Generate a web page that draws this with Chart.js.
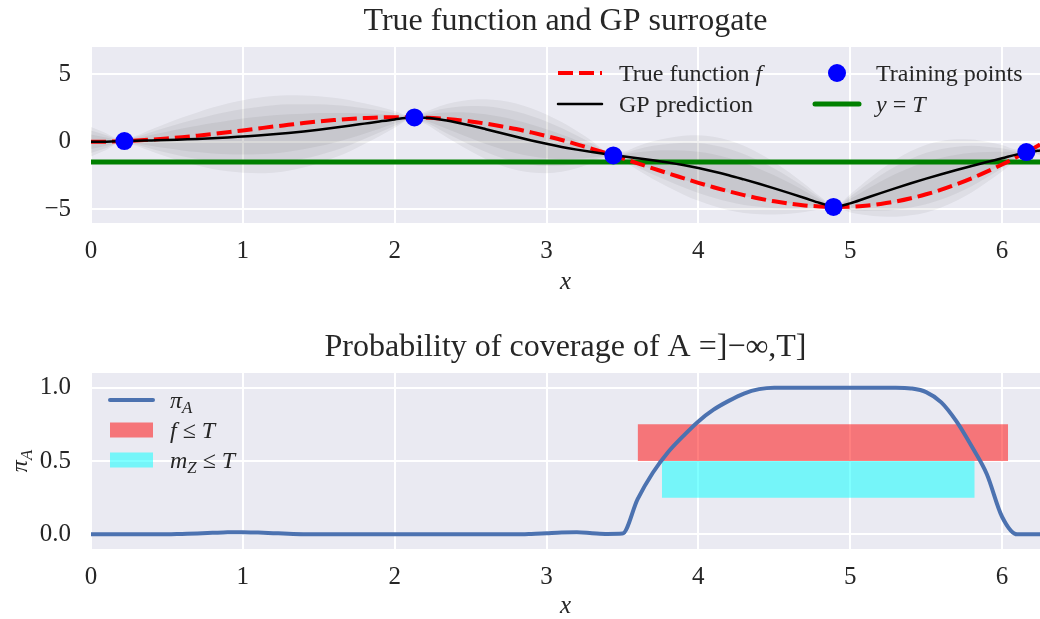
<!DOCTYPE html>
<html>
<head>
<meta charset="utf-8">
<script src="https://cdn.jsdelivr.net/npm/chart.js@4.4.0/dist/chart.umd.min.js"></script>
<style>
  body { margin: 0; background: #fff; }
  canvas { position: absolute; left: 0; }
</style>
</head>
<body>
<canvas id="gpChart" width="1040" height="300" style="top:0"></canvas>
<canvas id="covChart" width="1040" height="319" style="top:300px"></canvas>
<script>
// x grid shared by every curve
const xGrid = [0, 0.1, 0.2, 0.3, 0.4, 0.5, 0.6, 0.7, 0.8, 0.9,
  1.0, 1.1, 1.2, 1.3, 1.4, 1.5, 1.6, 1.7, 1.8, 1.9,
  2.0, 2.1, 2.2, 2.3, 2.4, 2.5, 2.6, 2.7, 2.8, 2.9,
  3.0, 3.1, 3.2, 3.3, 3.4, 3.5, 3.6, 3.7, 3.8, 3.9,
  4.0, 4.1, 4.2, 4.3, 4.4, 4.5, 4.6, 4.7, 4.8, 4.9,
  5.0, 5.1, 5.2, 5.3, 5.4, 5.5, 5.6, 5.7, 5.8, 5.9,
  6.0, 6.1, 6.2, 6.25];

// true function f
const trueF = [0.00, 0.01, 0.04, 0.09, 0.16, 0.24, 0.34, 0.45, 0.57, 0.70,
  0.84, 0.98, 1.12, 1.25, 1.38, 1.50, 1.60, 1.69, 1.75, 1.80,
  1.82, 1.81, 1.78, 1.72, 1.62, 1.50, 1.34, 1.15, 0.94, 0.69,
  0.42, 0.13, -0.19, -0.52, -0.87, -1.23, -1.59, -1.96, -2.33, -2.68,
  -3.03, -3.36, -3.66, -3.94, -4.19, -4.40, -4.57, -4.70, -4.78, -4.81,
  -4.80, -4.72, -4.59, -4.41, -4.17, -3.88, -3.54, -3.14, -2.70, -2.21,
  -1.68, -1.11, -0.52, -0.21];

// GP posterior mean and std
const gpMean = [0.00, 0.01, 0.04, 0.07, 0.10, 0.13, 0.17, 0.21, 0.26, 0.32,
  0.39, 0.46, 0.55, 0.65, 0.76, 0.89, 1.03, 1.18, 1.34, 1.50,
  1.65, 1.77, 1.77, 1.64, 1.44, 1.20, 0.93, 0.65, 0.37, 0.10,
  -0.15, -0.38, -0.58, -0.76, -0.92, -1.07, -1.21, -1.36, -1.53, -1.72,
  -1.94, -2.19, -2.47, -2.78, -3.10, -3.44, -3.79, -4.15, -4.52, -4.79,
  -4.55, -4.17, -3.79, -3.42, -3.06, -2.72, -2.40, -2.09, -1.79, -1.50,
  -1.22, -0.93, -0.72, -0.64];
const gpStd = [0.42, 0.24, 0.04, 0.15, 0.32, 0.48, 0.63, 0.76, 0.88, 0.97,
  1.04, 1.08, 1.10, 1.08, 1.03, 0.96, 0.86, 0.74, 0.58, 0.42,
  0.24, 0.06, 0.17, 0.39, 0.58, 0.74, 0.86, 0.93, 0.95, 0.92,
  0.84, 0.71, 0.53, 0.32, 0.09, 0.13, 0.34, 0.54, 0.70, 0.84,
  0.94, 0.99, 1.00, 0.96, 0.87, 0.75, 0.59, 0.40, 0.19, 0.02,
  0.26, 0.48, 0.67, 0.82, 0.92, 0.97, 0.95, 0.88, 0.76, 0.58,
  0.38, 0.14, 0.06, 0.14];
const bandLevels = [1.28, 1.96, 2.58];

// training points
const trainX = [0.22, 2.13, 3.44, 4.89, 6.16];
const trainY = [0.05, 1.80, -1.01, -4.81, -0.76];

const threshold = -1.5;

// coverage probability pi_A
const piA = [0, 0, 0, 0, 0, 0, 0.003, 0.006, 0.010, 0.014,
  0.015, 0.012, 0.008, 0.004, 0.001, 0, 0, 0, 0, 0,
  0, 0, 0, 0, 0, 0, 0, 0, 0, 0.003,
  0.008, 0.013, 0.014, 0.008, 0.003, 0.005, 0.24, 0.42, 0.56, 0.67,
  0.77, 0.85, 0.91, 0.96, 0.99, 1.0, 1.0, 1.0, 1.0, 1.0,
  1.0, 1.0, 1.0, 1.0, 0.995, 0.97, 0.90, 0.77, 0.60, 0.41,
  0.12, 0.0, 0.0, 0.0];

// x-ranges where f <= T and m_Z <= T
const fBelowSpan = [3.60, 6.04];
const mBelowSpan = [3.76, 5.82];
const fBelowLevels = [0.5, 0.75];
const mBelowLevels = [0.25, 0.5];

const xTicks = [0, 1, 2, 3, 4, 5, 6];

const FONT = '"Liberation Serif", serif';
const TEXT = '#262626';
Chart.defaults.font.family = FONT;
Chart.defaults.color = TEXT;

const pts = ys => xGrid.map((x, i) => ({x: x, y: ys[i]}));
const minus = v => v < 0 ? '\u2212' + Math.abs(v) : String(v);

// draw a label made of roman / italic / subscript pieces
function drawRich(ctx, parts, x, y, size) {
  const fontOf = k => (k === 'r' ? '' : 'italic ') + (k === 's' ? size * 0.7 : size) + 'px ' + FONT;
  ctx.textBaseline = 'alphabetic';
  ctx.textAlign = 'left';
  let cx = x;
  parts.forEach(([t, k]) => {
    ctx.font = fontOf(k);
    ctx.fillText(t, cx, y + (k === 's' ? size * 0.22 : 0));
    cx += ctx.measureText(t).width;
  });
}
function richWidth(ctx, parts, size) {
  let w = 0;
  parts.forEach(([t, k]) => {
    ctx.font = (k === 'r' ? '' : 'italic ') + (k === 's' ? size * 0.7 : size) + 'px ' + FONT;
    w += ctx.measureText(t).width;
  });
  return w;
}

const plotBg = {
  id: 'plotBg',
  beforeDraw(chart) {
    const {ctx, chartArea: a} = chart;
    ctx.save();
    ctx.fillStyle = '#EAEAF2';
    ctx.fillRect(a.left, a.top, a.width, a.height);
    ctx.restore();
  }
};

const mathLegend = {
  id: 'mathLegend',
  afterDatasetsDraw(chart, args, opts) {
    if (!opts.items) return;
    const {ctx, chartArea: a} = chart;
    ctx.save();
    opts.items.forEach(it => {
      const x0 = a.left + it.dx, y0 = a.top + it.dy, s = it.sample;
      if (s.kind === 'line') {
        ctx.strokeStyle = s.color;
        ctx.lineWidth = s.width;
        ctx.setLineDash(s.dash || []);
        ctx.lineCap = s.dash ? 'butt' : 'round';
        ctx.beginPath();
        ctx.moveTo(x0, y0);
        ctx.lineTo(x0 + opts.handle, y0);
        ctx.stroke();
        ctx.setLineDash([]);
      } else if (s.kind === 'dot') {
        ctx.fillStyle = s.color;
        ctx.beginPath();
        ctx.arc(x0 + opts.handle / 2, y0, s.r, 0, Math.PI * 2);
        ctx.fill();
      } else if (s.kind === 'patch') {
        ctx.fillStyle = s.color;
        ctx.fillRect(x0, y0 - s.h / 2, opts.handle, s.h);
      }
      ctx.fillStyle = TEXT;
      drawRich(ctx, it.parts, x0 + opts.gap, y0 + opts.size * 0.33, opts.size);
    });
    if (opts.yTitle) {
      const yc = (a.top + a.bottom) / 2;
      ctx.translate(opts.yTitle.x, yc);
      ctx.rotate(-Math.PI / 2);
      ctx.fillStyle = TEXT;
      const w = richWidth(ctx, opts.yTitle.parts, opts.yTitle.size);
      drawRich(ctx, opts.yTitle.parts, -w / 2, 0, opts.yTitle.size);
    }
    ctx.restore();
  }
};

function axes(yMin, yMax, yStep, yFmt, xAxisHeight, xTitlePad) {
  return {
    x: {
      type: 'linear', min: 0, max: 6.25,
      afterBuildTicks: s => { s.ticks = xTicks.map(v => ({value: v})); },
      ticks: {font: {size: 25}, padding: 13, color: TEXT, callback: v => String(v)},
      grid: {color: '#ffffff', lineWidth: 2, drawTicks: false},
      border: {display: false},
      title: {display: true, text: 'x', font: {size: 25, style: 'italic', lineHeight: 1}, padding: {top: 0, bottom: xTitlePad}},
      afterFit: s => { s.height = xAxisHeight; s.paddingLeft = 0; s.paddingRight = 0; }
    },
    y: {
      min: yMin, max: yMax,
      ticks: {stepSize: yStep, includeBounds: false, font: {size: 25}, padding: 20, color: TEXT, callback: yFmt},
      grid: {color: '#ffffff', lineWidth: 2, drawTicks: false},
      border: {display: false},
      afterFit: s => { s.width = 91; s.paddingTop = 0; s.paddingBottom = 0; }
    }
  };
}

const lineBase = {pointRadius: 0, cubicInterpolationMode: 'monotone', fill: false};

// ---- top: true function and GP surrogate ----
const bandSets = [];
bandLevels.forEach(k => {
  bandSets.push(Object.assign({}, lineBase, {
    label: 'lower ' + k,
    data: xGrid.map((x, i) => ({x: x, y: gpMean[i] - k * gpStd[i]})),
    borderWidth: 0, order: 10
  }));
  bandSets.push(Object.assign({}, lineBase, {
    label: 'upper ' + k,
    data: xGrid.map((x, i) => ({x: x, y: gpMean[i] + k * gpStd[i]})),
    borderWidth: 0, order: 10, fill: '-1', backgroundColor: 'rgba(0,0,0,0.05)'
  }));
});

new Chart(document.getElementById('gpChart'), {
  type: 'line',
  data: {
    datasets: bandSets.concat([
      Object.assign({}, lineBase, {
        label: 'y = T',
        data: [{x: 0, y: threshold}, {x: 6.25, y: threshold}],
        borderColor: '#008000', borderWidth: 5, order: 4
      }),
      Object.assign({}, lineBase, {
        label: 'True function f',
        data: pts(trueF),
        borderColor: '#FF0000', borderWidth: 4, borderDash: [15, 6], order: 3
      }),
      Object.assign({}, lineBase, {
        label: 'GP prediction',
        data: pts(gpMean),
        borderColor: '#000000', borderWidth: 2.5, order: 2
      }),
      {
        label: 'Training points',
        data: trainX.map((x, i) => ({x: x, y: trainY[i]})),
        showLine: false, pointRadius: 9, pointHoverRadius: 9,
        pointBackgroundColor: '#0000FF', pointBorderWidth: 0, order: 1
      }
    ])
  },
  options: {
    responsive: false,
    animation: false,
    layout: {padding: 0, autoPadding: false},
    scales: axes(-6, 7, 5, v => minus(v), 77, 5),
    plugins: {
      legend: {display: false},
      tooltip: {enabled: false},
      title: {
        display: true, fullSize: false,
        text: 'True function and GP surrogate',
        color: TEXT,
        font: {size: 32, weight: 'normal'},
        padding: {top: 2, bottom: 6.6}
      },
      mathLegend: {
        size: 24, handle: 44, gap: 61,
        items: [
          {dx: 467, dy: 26, sample: {kind: 'line', color: '#FF0000', width: 4, dash: [15, 6]}, parts: [['True function ', 'r'], ['f', 'i']]},
          {dx: 467, dy: 57, sample: {kind: 'line', color: '#000000', width: 2.5}, parts: [['GP prediction', 'r']]},
          {dx: 724, dy: 26, sample: {kind: 'dot', color: '#0000FF', r: 9}, parts: [['Training points', 'r']]},
          {dx: 724, dy: 57, sample: {kind: 'line', color: '#008000', width: 5}, parts: [['y', 'i'], [' = ', 'r'], ['T', 'i']]}
        ]
      }
    }
  },
  plugins: [plotBg, mathLegend]
});

// ---- bottom: probability of coverage ----
new Chart(document.getElementById('covChart'), {
  type: 'line',
  data: {
    datasets: [
      Object.assign({}, lineBase, {
        label: '\u03C0A',
        data: pts(piA),
        borderColor: '#4C72B0', borderWidth: 4, order: 1
      }),
      Object.assign({}, lineBase, {
        label: 'f \u2264 T',
        data: fBelowSpan.map(x => ({x: x, y: fBelowLevels[1]})),
        borderWidth: 0, fill: {value: fBelowLevels[0]},
        backgroundColor: 'rgba(255,0,0,0.5)', order: 2
      }),
      Object.assign({}, lineBase, {
        label: 'mZ \u2264 T',
        data: mBelowSpan.map(x => ({x: x, y: mBelowLevels[1]})),
        borderWidth: 0, fill: {value: mBelowLevels[0]},
        backgroundColor: 'rgba(0,255,255,0.5)', order: 3
      })
    ]
  },
  options: {
    responsive: false,
    animation: false,
    layout: {padding: 0, autoPadding: false},
    scales: axes(-0.1, 1.1, 0.5, v => v.toFixed(1), 70, 0),
    plugins: {
      legend: {display: false},
      tooltip: {enabled: false},
      title: {
        display: true, fullSize: false,
        text: 'Probability of coverage of A =]\u2212\u221E,T]',
        color: TEXT,
        font: {size: 32, weight: 'normal'},
        padding: {top: 28, bottom: 6.6}
      },
      mathLegend: {
        size: 24, handle: 43, gap: 60,
        items: [
          {dx: 19, dy: 27, sample: {kind: 'line', color: '#4C72B0', width: 4}, parts: [['\u03C0', 'i'], ['A', 's']]},
          {dx: 19, dy: 57, sample: {kind: 'patch', color: 'rgba(255,0,0,0.5)', h: 15}, parts: [['f', 'i'], [' \u2264 ', 'r'], ['T', 'i']]},
          {dx: 19, dy: 87, sample: {kind: 'patch', color: 'rgba(0,255,255,0.5)', h: 15}, parts: [['m', 'i'], ['Z', 's'], [' \u2264 ', 'r'], ['T', 'i']]}
        ],
        yTitle: {x: 27, size: 24, parts: [['\u03C0', 'i'], ['A', 's']]}
      }
    }
  },
  plugins: [plotBg, mathLegend]
});
</script>
</body>
</html>
